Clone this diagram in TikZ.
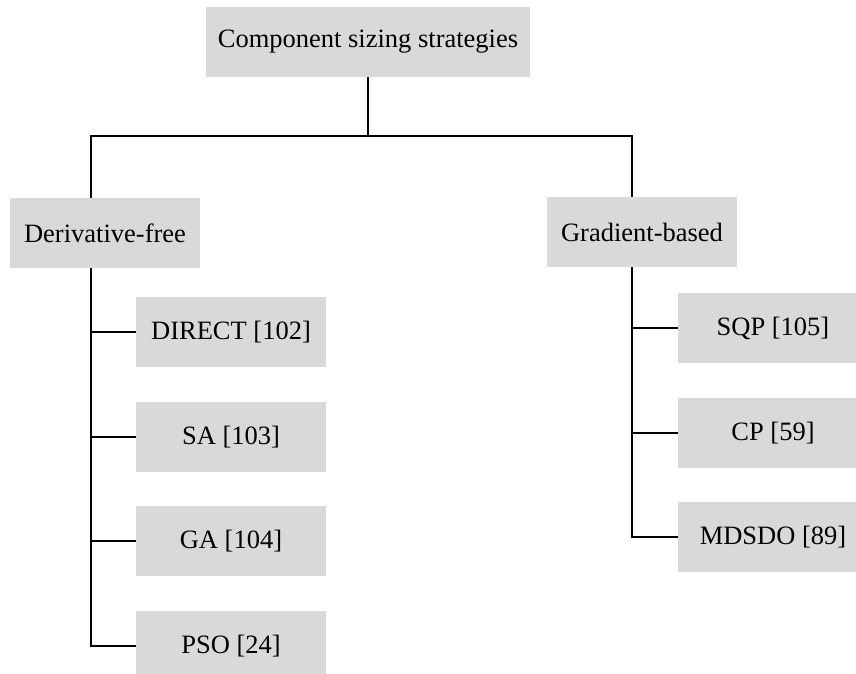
\documentclass[tikz,border=0pt]{standalone}
\usepackage{fontspec}
\setmainfont{Liberation Serif}
\definecolor{boxgray}{HTML}{D9D9D9}
\begin{document}
\begin{tikzpicture}[x=1pt,y=-1pt,
  box/.style={rectangle,fill=boxgray,inner sep=0pt,minimum width=190pt,minimum height=70pt,font=\fontsize{26.5}{30}\selectfont},
  conn/.style={line width=1.5pt}]
\useasboundingbox (0,0) rectangle (856,674);
\node[box,minimum width=324pt] (top) at (368,42) {Component sizing strategies};
\node[box] (deriv) at (105,233) {Derivative-free};
\node[box] (grad) at (642,232) {Gradient-based};
\node[box] (direct) at (231,332) {DIRECT [102]};
\node[box] (sa) at (231,437) {SA [103]};
\node[box] (ga) at (231,541) {GA [104]};
\node[box] (pso) at (231,646) {PSO [24]};
\node[box] (sqp) at (773,328) {SQP [105]};
\node[box] (cp) at (773,433) {CP [59]};
\node[box] (mdsdo) at (773,537) {MDSDO [89]};
\coordinate (tl) at (91,136);
\coordinate (tr) at (632,136);
\draw[conn] (top.south) -- (top.south |- tl);
\draw[conn] (deriv.north -| tl) -- (tl) -- (tr) -- (grad.north -| tr);
\draw[conn] (deriv.south -| tl) |- (pso.west);
\draw[conn] (direct.west -| tl) -- (direct.west);
\draw[conn] (sa.west -| tl) -- (sa.west);
\draw[conn] (ga.west -| tl) -- (ga.west);
\draw[conn] (grad.south -| tr) |- (mdsdo.west);
\draw[conn] (sqp.west -| tr) -- (sqp.west);
\draw[conn] (cp.west -| tr) -- (cp.west);
\end{tikzpicture}
\end{document}
